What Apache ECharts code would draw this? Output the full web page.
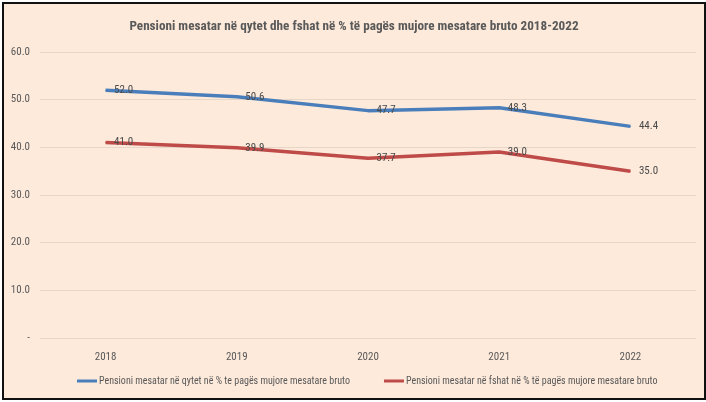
<!DOCTYPE html>
<html><head><meta charset="utf-8">
<script src="https://cdn.jsdelivr.net/npm/echarts@6/dist/echarts.min.js"></script>
<style>
html,body{margin:0;padding:0;background:#fff;}
#frame{position:absolute;left:2px;top:2px;width:700px;height:394px;border:2px solid #111;background:#fdeadb;}
#c{width:700px;height:394px;}
</style></head><body>
<div id="frame"><div id="c"></div></div>
<script>
const categories = ['2018','2019','2020','2021','2022'];
const qytet = [52.0, 50.6, 47.7, 48.3, 44.4];
const fshat = [41.0, 39.9, 37.7, 39.0, 35.0];
const yTicks = [0, 10, 20, 30, 40, 50, 60];
const titleText = 'Pensioni mesatar në qytet dhe fshat në % të pagës mujore mesatare bruto 2018-2022';
const nameQytet = 'Pensioni mesatar në qytet në % te pagës mujore mesatare bruto';
const nameFshat = 'Pensioni mesatar në fshat në % të pagës mujore mesatare bruto';

const font = '"Liberation Sans Narrow", "Roboto Condensed", "Liberation Sans", sans-serif';
const chart = echarts.init(document.getElementById('c'));
const label = {show:true, position:'right', distance:8, color:'#4a4a4a', fontSize:11, fontFamily:font, formatter:p=>p.value.toFixed(1)};
chart.setOption({
  animation:false,
  backgroundColor:'transparent',
  title:{text:titleText, left:'center', top:11, textStyle:{fontFamily:font, fontSize:13.2, fontWeight:'bold', color:'#595959'}},
  grid:{left:36, right:8, top:48, bottom:60},
  legend:{bottom:7, left:68, itemGap:34, itemWidth:20, itemHeight:3, icon:'rect',
    textStyle:{fontFamily:font, fontSize:10, color:'#595959', padding:[0,0,0,-3]},
    data:[nameQytet, nameFshat]},
  xAxis:{type:'category', data:categories, boundaryGap:true,
    axisLine:{show:false}, axisTick:{show:false},
    axisLabel:{color:'#595959', fontFamily:font, fontSize:11, margin:14}},
  yAxis:{type:'value', min:yTicks[0], max:yTicks[yTicks.length-1], interval:10,
    axisLine:{show:false}, axisTick:{show:false},
    splitLine:{lineStyle:{color:'#e6d6c8', width:1}},
    axisLabel:{color:'#595959', fontFamily:font, fontSize:11, margin:10, formatter:v=>v===0?'-':v.toFixed(1)}},
  series:[
    {name:nameQytet, type:'line', data:qytet, symbol:'circle', symbolSize:1, showSymbol:true, lineStyle:{width:3.5, color:'#4a7ebb'}, itemStyle:{color:'#4a7ebb'}, label:label},
    {name:nameFshat, type:'line', data:fshat, symbol:'circle', symbolSize:1, showSymbol:true, lineStyle:{width:3.5, color:'#be4b48'}, itemStyle:{color:'#be4b48'}, label:label}
  ]
});
</script></body></html>
